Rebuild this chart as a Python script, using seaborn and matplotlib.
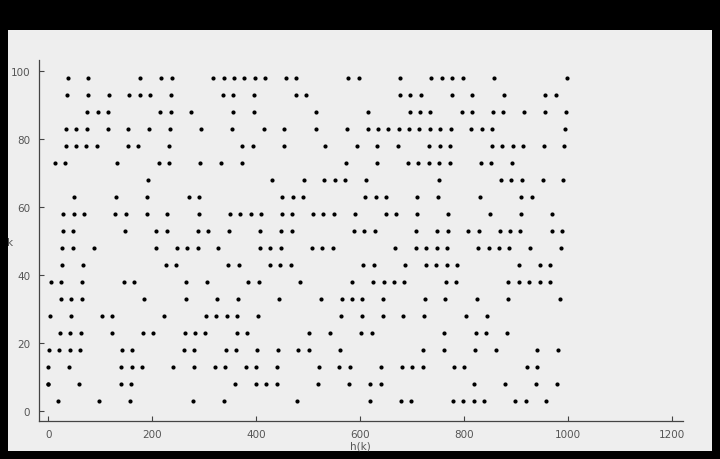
import matplotlib
matplotlib.use("Agg")
import matplotlib.pyplot as plt
import seaborn as sns
import pandas as pd
from matplotlib.patches import Rectangle

# ---- data: h(k) values, one list per k row ----
h_k98 = [37, 77, 177, 217, 237, 317, 337, 357, 377, 397, 417, 457, 477, 577, 597, 677, 737, 757, 777, 797, 857, 997]
h_k93 = [36, 76, 116, 156, 176, 196, 236, 336, 356, 396, 476, 496, 676, 696, 716, 776, 816, 876, 956, 976]
h_k88 = [75, 95, 115, 215, 235, 275, 355, 395, 515, 615, 695, 715, 735, 795, 815, 855, 875, 915, 955, 995]
h_k83 = [34, 54, 74, 114, 154, 194, 234, 294, 354, 414, 454, 514, 574, 614, 634, 654, 674, 694, 714, 734, 754, 774, 814, 834, 854, 994]
h_k78 = [33, 53, 73, 93, 153, 173, 233, 373, 393, 453, 533, 593, 633, 673, 733, 753, 773, 853, 873, 893, 913, 953, 993]
h_k73 = [12, 32, 132, 212, 232, 292, 332, 372, 572, 632, 692, 712, 732, 752, 772, 832, 852, 892]
h_k68 = [191, 431, 491, 531, 551, 571, 611, 751, 871, 891, 911, 951, 991]
h_k63 = [50, 130, 190, 270, 290, 450, 470, 490, 610, 630, 650, 710, 750, 830, 910, 930]
h_k58 = [29, 49, 69, 129, 149, 189, 229, 289, 349, 369, 389, 409, 449, 469, 509, 529, 549, 589, 649, 669, 709, 769, 849, 909, 969]
h_k53 = [28, 48, 148, 208, 228, 288, 308, 348, 408, 448, 468, 588, 608, 628, 708, 748, 768, 808, 828, 868, 888, 908, 968, 988]
h_k48 = [27, 47, 87, 207, 247, 267, 287, 327, 407, 427, 447, 507, 527, 547, 667, 707, 727, 747, 767, 827, 847, 867, 887, 927, 987]
h_k43 = [26, 66, 226, 246, 346, 366, 426, 446, 466, 606, 626, 686, 726, 746, 766, 786, 906, 946, 966]
h_k38 = [5, 25, 65, 145, 165, 265, 305, 385, 405, 485, 585, 625, 645, 665, 685, 765, 785, 885, 905, 925, 945, 965]
h_k33 = [24, 44, 64, 184, 264, 324, 364, 444, 524, 564, 584, 604, 644, 724, 764, 824, 884, 984]
h_k28 = [3, 43, 103, 123, 223, 303, 323, 343, 363, 403, 563, 603, 643, 683, 723, 803, 843]
h_k23 = [22, 42, 62, 122, 182, 202, 262, 282, 302, 362, 382, 502, 542, 602, 622, 762, 822, 842, 882]
h_k18 = [1, 21, 41, 61, 141, 161, 261, 281, 341, 361, 401, 441, 481, 501, 561, 721, 761, 821, 861, 941, 981]
h_k13 = [0, 40, 140, 160, 180, 240, 280, 320, 340, 380, 400, 440, 520, 560, 580, 640, 680, 700, 720, 780, 800, 920, 940]
h_k8 = [-1, 0, 59, 139, 159, 359, 399, 419, 439, 519, 579, 619, 639, 819, 879, 939, 979]
h_k3 = [18, 98, 158, 278, 338, 478, 618, 678, 698, 778, 798, 818, 838, 898, 918, 958]

rows = {98: h_k98, 93: h_k93, 88: h_k88, 83: h_k83, 78: h_k78, 73: h_k73,
        68: h_k68, 63: h_k63, 58: h_k58, 53: h_k53, 48: h_k48, 43: h_k43,
        38: h_k38, 33: h_k33, 28: h_k28, 23: h_k23, 18: h_k18, 13: h_k13,
        8: h_k8, 3: h_k3}

x_ticks = [0, 200, 400, 600, 800, 1000, 1200]
y_ticks = [0, 20, 40, 60, 80, 100]

df = pd.DataFrame([(h, k) for k, hs in rows.items() for h in hs], columns=["h(k)", "k"])

# ---- figure ----
W, H = 720, 460
fig = plt.figure(figsize=(W / 100, H / 100), dpi=100, facecolor="black")
bg = fig.add_axes([8 / W, 8 / H, 704 / W, 421 / H], zorder=-10)
bg.set_facecolor("#eeeeee")
bg.set_xticks([]); bg.set_yticks([])
for s in bg.spines.values():
    s.set_visible(False)

ax = fig.add_axes([38.5 / W, 37.7 / H, 644.5 / W, 361.3 / H], zorder=1)
ax.set_facecolor("none")

sns.scatterplot(data=df, x="h(k)", y="k", color="black", s=9, linewidth=0, ax=ax)

ax.set_xlim(-19, 1221)
ax.set_ylim(-2.94, 103.2)
ax.set_xticks(x_ticks)
ax.set_yticks(y_ticks)
for s in ["top", "right"]:
    ax.spines[s].set_visible(False)
for s in ["left", "bottom"]:
    ax.spines[s].set_color("#444444")
    ax.spines[s].set_linewidth(0.9)
ax.tick_params(direction="in", length=3.6, width=0.8, color="#444444",
               labelcolor="#555555", labelsize=7.5)
ax.tick_params(axis="y", pad=6)
ax.tick_params(axis="x", pad=5.8)

ax.set_xlabel("h(k)", fontsize=7.5, color="#555555", va="top")
ax.xaxis.set_label_coords(0.499, -0.052)
ax.set_ylabel("k", fontsize=7.5, color="#555555", rotation=0, ha="center", va="center")
ax.yaxis.set_label_coords(-0.0434, 0.496)

fig.savefig("out.png", dpi=100, facecolor="black")
